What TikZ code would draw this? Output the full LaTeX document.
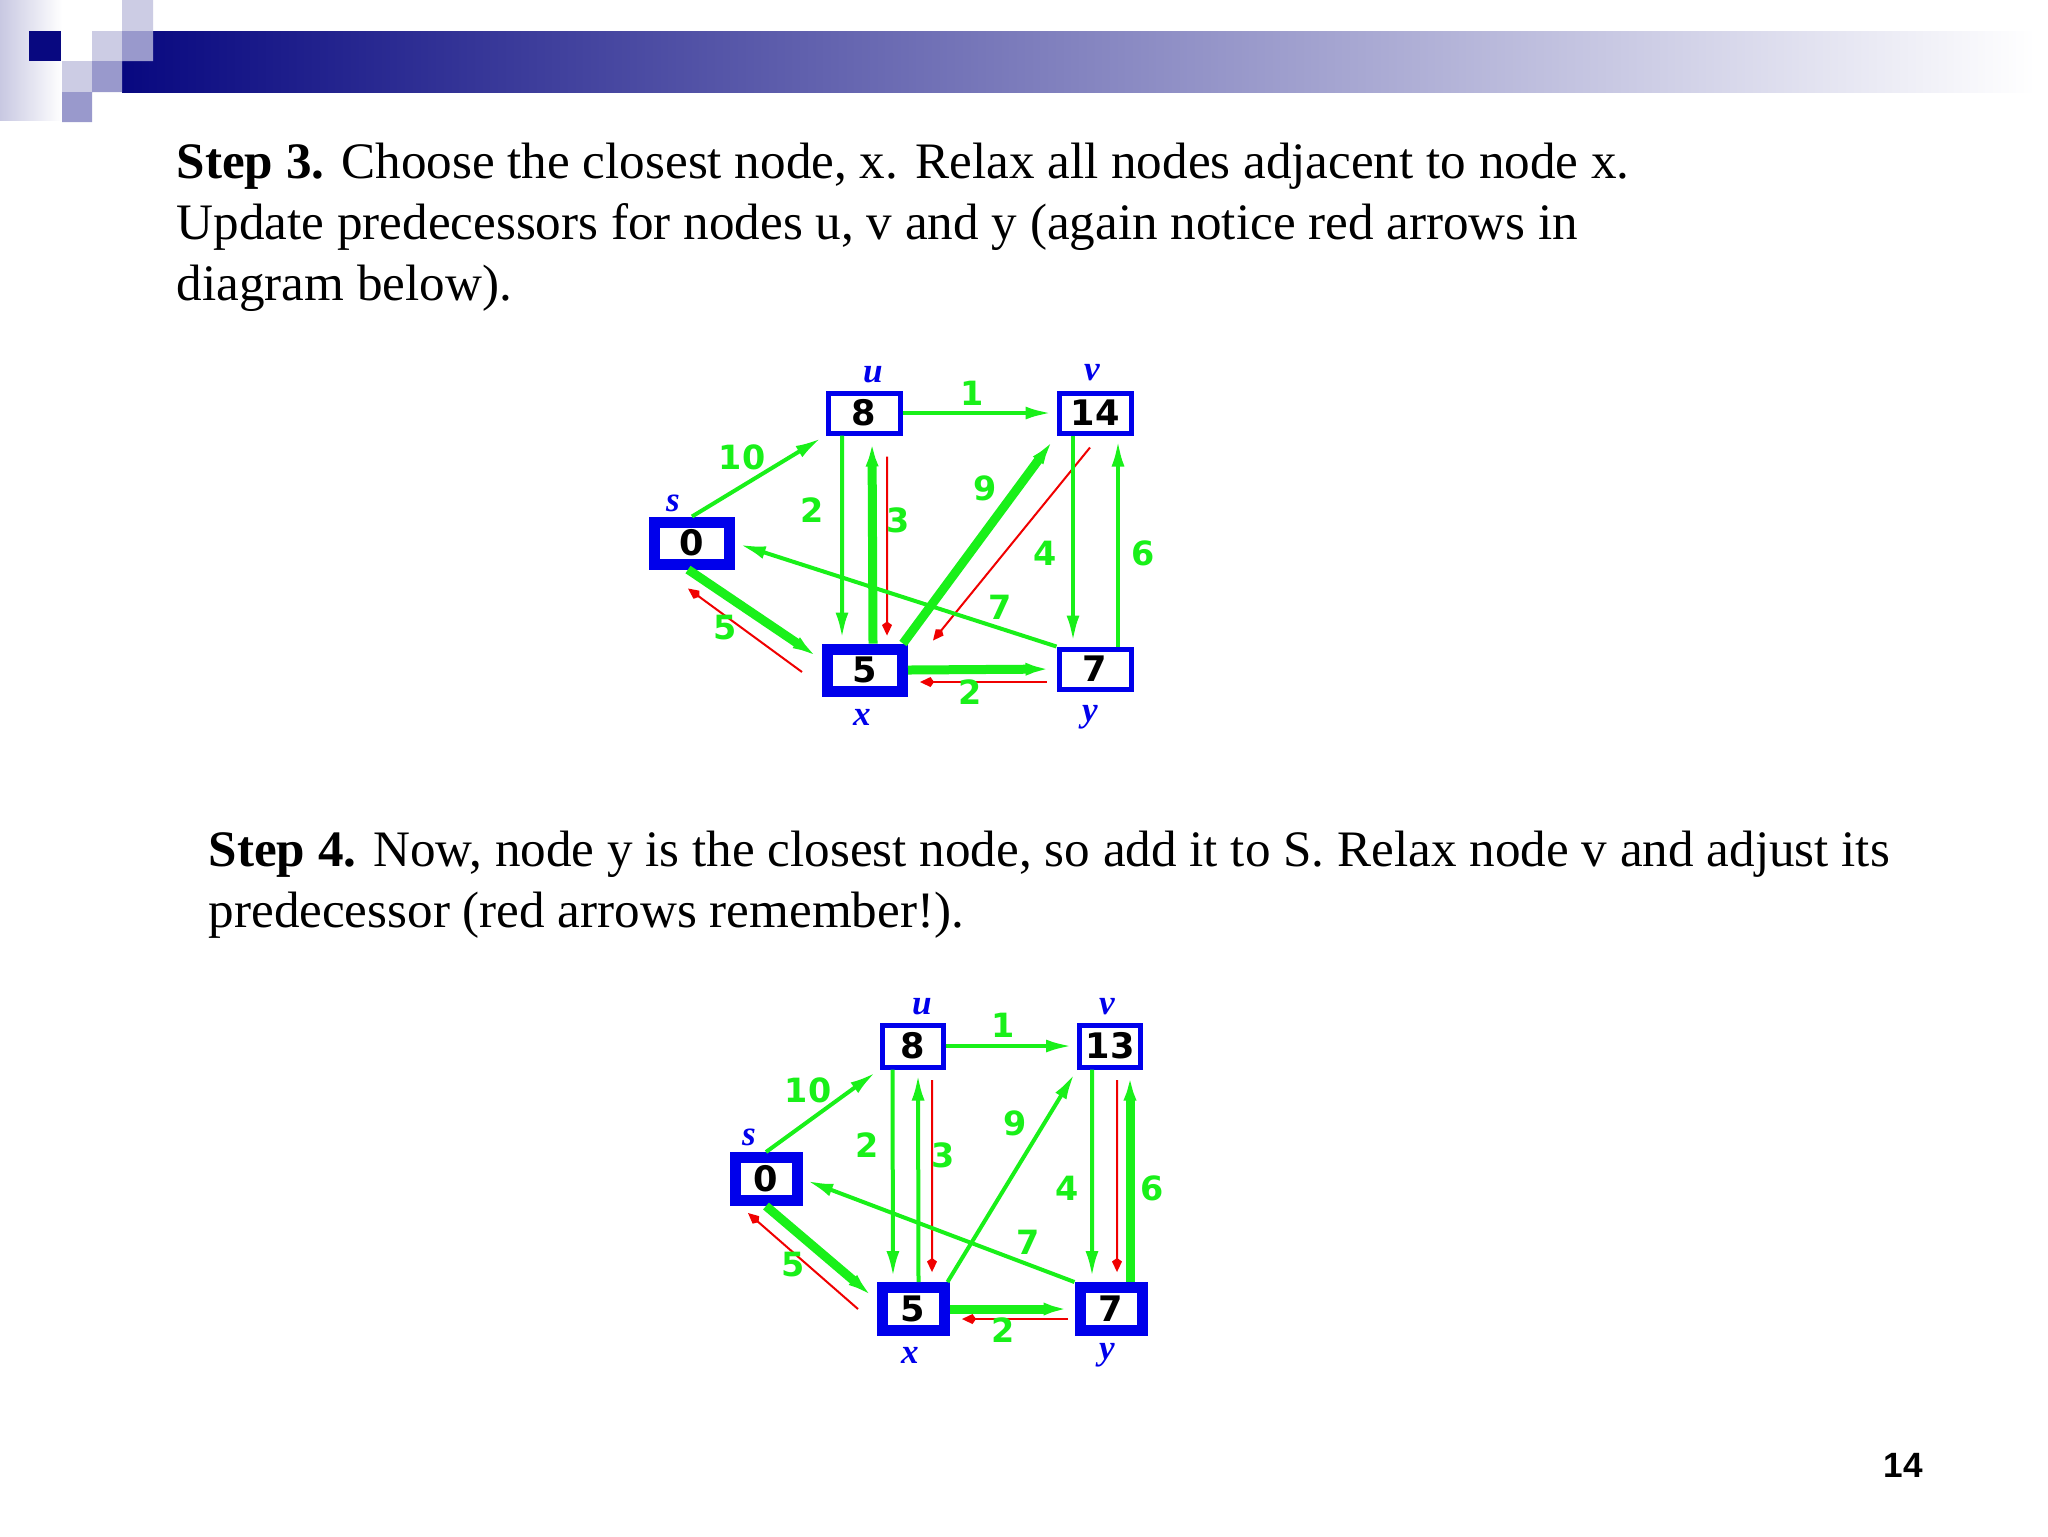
\documentclass[tikz,border=0pt]{standalone}
\usepackage{fontspec}
\setmainfont{Liberation Serif}
\newfontfamily\dejavu{DejaVu Sans}
\newfontfamily\libsans{Liberation Sans}
\usetikzlibrary{arrows.meta,positioning}
\definecolor{navy}{RGB}{8,8,128}
\definecolor{lav}{RGB}{200,200,226}
\definecolor{sqa}{RGB}{204,204,228}
\definecolor{sqb}{RGB}{153,153,204}
\definecolor{dblue}{RGB}{0,0,235}
\definecolor{dgreen}{RGB}{25,240,25}
\definecolor{dred}{RGB}{240,0,0}
\tikzset{
  txt/.style={anchor=base west, inner sep=0pt, font=\fontsize{14.55}{17}\selectfont},
  dnode/.style={draw=dblue, fill=white, line width=0.5mm, inner sep=0pt, font=\dejavu\bfseries\fontsize{10}{11}\selectfont},
  dnodek/.style={dnode, line width=1.1mm},
  box1/.style={dnode, minimum width=7.2mm, minimum height=4mm},
  boxk1/.style={dnodek, minimum width=7.5mm, minimum height=4.2mm},
  box2/.style={dnode, minimum width=6.1mm, minimum height=4.2mm},
  boxk2/.style={dnodek, minimum width=6.2mm, minimum height=4.3mm},
  nlab/.style={text=dblue, inner sep=0pt, font=\bfseries\itshape\fontsize{10}{11}\selectfont},
  wlab/.style={text=dgreen, inner sep=0pt, font=\dejavu\bfseries\fontsize{9.5}{10}\selectfont},
  garr/.style={-{Latex[length=2.6mm,width=1.3mm]}, draw=dgreen, line width=0.4mm, shorten >=0.5mm},
  gthk/.style={garr, line width=0.9mm},
  rarr/.style={-{Kite[length=1.4mm,width=1mm]}, draw=dred, line width=0.2mm}
}
\begin{document}
\begin{tikzpicture}[x=0.1mm,y=-0.1mm]
\useasboundingbox (0,0) rectangle (2048,1536);
\fill[white] (0,0) rectangle (2048,1536);
\shade[left color=lav, right color=white] (0,0) rectangle (62,120);
\shade[left color=navy, right color=white] (122,31) rectangle (2035,92);
\fill[navy] (29,31) rectangle (61,61);
\fill[sqa] (92,31) rectangle (122,61) (122,0) rectangle (153,31) (62,61) rectangle (92,92);
\fill[sqb] (122,31) rectangle (153,61) (92,61) rectangle (122,92) (62,92) rectangle (92,122);

\node[txt] (s3a) at (176,178) {\textbf{Step 3.} Choose the closest node, x. Relax all nodes adjacent to node x.};
\node[txt] (s3b) at (176,239) {Update predecessors for nodes u, v and y (again notice red arrows in};
\node[txt] (s3c) at (176,300) {diagram below).};
\node[txt] (s4a) at (208,866) {\textbf{Step 4.} Now, node y is the closest node, so add it to S. Relax node v and adjust its};
\node[txt] (s4b) at (208,927) {predecessor (red arrows remember!).};

\node[boxk1] (s1) at (692,543) {0};
\node[box1] (u1) at (864,413) {8};
\node[box1] (v1) at (1095,413) {14};
\node[boxk1] (x1) at (865,670) {5};
\node[box1] (y1) at (1095,669) {7};
\node[nlab] (ns1) at (673,503) {s};
\node[nlab] (nu1) at (873,375) {u};
\node[nlab] (nv1) at (1092,373) {v};
\node[nlab] (nx1) at (862,717) {x};
\node[nlab] (ny1) at (1090,717) {y};
\draw[garr] (s1.north) -- (u1.south west);
\draw[garr] (u1.east) -- (v1.west);
\draw[garr] ([xshift=-2.2mm]u1.south) -- ([xshift=-2.3mm]x1.north);
\draw[gthk] ([xshift=0.8mm]x1.north) -- ([xshift=0.8mm]u1.south);
\draw[rarr, shorten >=0.8mm] ([xshift=2.3mm,yshift=-2.1mm]u1.south) -- ([xshift=2.2mm]x1.north);
\draw[gthk] ([xshift=-0.5mm]x1.north east) -- (v1.south west);
\draw[rarr] ([xshift=-0.5mm,yshift=-1.2mm]v1.south) -- ([xshift=2.5mm,yshift=0.3mm]x1.north east);
\draw[garr] ([xshift=-2.2mm]v1.south) -- ([xshift=-2.2mm]y1.north);
\draw[garr] ([xshift=2.3mm]y1.north) -- ([xshift=2.3mm]v1.south);
\draw[garr] (y1.north west) -- (s1.east);
\draw[gthk] ([xshift=-0.4mm]s1.south) -- ([yshift=1mm]x1.west);
\draw[rarr] ([xshift=-2mm,yshift=-0.2mm]x1.west) -- ([xshift=-0.4mm,yshift=-1.9mm]s1.south);
\draw[gthk] (x1.east) -- (y1.west);
\draw[rarr] ([xshift=-1mm,yshift=-1.3mm]y1.west) -- ([xshift=1.2mm,yshift=-1.2mm]x1.east);
\node[wlab] (w10a) at (742,457) {10};
\node[wlab] (w1a) at (972,393) {1};
\node[wlab] (w2a) at (812,510) {2};
\node[wlab] (w3a) at (898,520) {3};
\node[wlab] (w9a) at (985,488) {9};
\node[wlab] (w4a) at (1045,553) {4};
\node[wlab] (w6a) at (1143,553) {6};
\node[wlab] (w7a) at (1000,607) {7};
\node[wlab] (w5a) at (725,628) {5};
\node[wlab] (w2b) at (970,692) {2};

\node[boxk2] (s2) at (766,1179) {0};
\node[box2] (u2) at (912.5,1046) {8};
\node[box2] (v2) at (1110,1046) {13};
\node[boxk2] (x2) at (913,1309) {5};
\node[boxk2] (y2) at (1111,1309) {7};
\node[nlab] (ns2) at (749,1137) {s};
\node[nlab] (nu2) at (922,1007) {u};
\node[nlab] (nv2) at (1107,1007) {v};
\node[nlab] (nx2) at (910,1355) {x};
\node[nlab] (ny2) at (1107,1355) {y};
\draw[garr] (s2.north) -- (u2.south west);
\draw[garr] (u2.east) -- (v2.west);
\draw[garr] ([xshift=-2mm]u2.south) -- ([xshift=-2mm]x2.north);
\draw[garr] ([xshift=0.55mm]x2.north) -- ([xshift=0.55mm]u2.south);
\draw[rarr, shorten >=1mm] ([xshift=1.95mm,yshift=-1.05mm]u2.south) -- ([xshift=1.9mm]x2.north);
\draw[garr] ([xshift=-0.2mm]x2.north east) -- (v2.south west);
\draw[garr] ([xshift=-1.8mm]v2.south) -- ([xshift=-1.9mm]y2.north);
\draw[rarr, shorten >=1mm] ([xshift=0.7mm,yshift=-1.05mm]v2.south) -- ([xshift=0.6mm]y2.north);
\draw[gthk] ([xshift=1.9mm]y2.north) -- ([xshift=2mm]v2.south);
\draw[garr] (y2.north west) -- (s2.east);
\draw[gthk] (s2.south) -- ([yshift=0.9mm]x2.west);
\draw[rarr] ([xshift=-1.85mm]x2.west) -- ([xshift=-1.8mm,yshift=-0.7mm]s2.south);
\draw[gthk] (x2.east) -- (y2.west);
\draw[rarr] ([xshift=-0.65mm,yshift=-1mm]y2.west) -- ([xshift=1.25mm,yshift=-1mm]x2.east);
\node[wlab] (w10c) at (808,1090) {10};
\node[wlab] (w1c) at (1003,1025) {1};
\node[wlab] (w2c) at (867,1145) {2};
\node[wlab] (w3c) at (943,1155) {3};
\node[wlab] (w9c) at (1015,1123) {9};
\node[wlab] (w4c) at (1067,1188) {4};
\node[wlab] (w6c) at (1152,1188) {6};
\node[wlab] (w7c) at (1028,1242) {7};
\node[wlab] (w5c) at (793,1265) {5};
\node[wlab] (w2d) at (1003,1330) {2};

\node[inner sep=0pt, font=\libsans\bfseries\fontsize{10}{12}\selectfont] (pg) at (1903,1465) {14};
\end{tikzpicture}
\end{document}
